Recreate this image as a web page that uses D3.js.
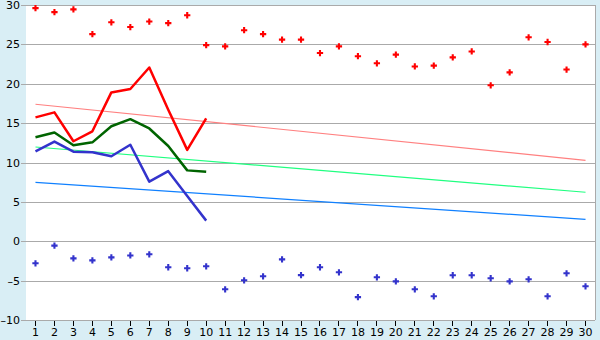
<!DOCTYPE html>
<html>
<head>
<meta charset="utf-8">
<script src="https://cdn.jsdelivr.net/npm/d3@7"></script>
<style>
  body { margin: 0; background: #d9eef5; }
  svg { display: block; }
  .eje text { font-family: "DejaVu Sans", Verdana, sans-serif; font-size: 11px; fill: #000; }
</style>
</head>
<body>
<svg id="chart" width="600" height="340"></svg>
<script>
// ---- datos ----
const dias = d3.range(1, 31);
const yTicks = [-10, -5, 0, 5, 10, 15, 20, 25, 30];

// puntos sueltos (máximas y mínimas)
const maximas = [29.6, 29.1, 29.45, 26.3, 27.8, 27.2, 27.9, 27.7, 28.7, 24.9,
  24.75, 26.8, 26.3, 25.6, 25.6, 23.9, 24.75, 23.5, 22.6, 23.7,
  22.2, 22.3, 23.35, 24.1, 19.8, 21.45, 25.9, 25.3, 21.8, 25.0];
const minimas = [-2.8, -0.56, -2.17, -2.43, -2.05, -1.8, -1.66, -3.3, -3.43, -3.18,
  -6.1, -4.96, -4.45, -2.3, -4.3, -3.3, -3.94, -7.1, -4.58, -5.09,
  -6.1, -6.99, -4.32, -4.32, -4.7, -5.09, -4.83, -6.99, -4.07, -5.72];

// líneas de los primeros 10 días
const lineaRoja = [15.73, 16.37, 12.7, 13.96, 18.9, 19.33, 22.06, 16.7, 11.6, 15.6];
const lineaVerde = [13.2, 13.8, 12.2, 12.56, 14.6, 15.5, 14.32, 12.1, 9.0, 8.83];
const lineaAzul = [11.4, 12.65, 11.37, 11.3, 10.8, 12.26, 7.57, 8.9, 5.75, 2.62];

// tendencias (valor en día 1 y día 30)
const tendRoja = [17.4, 10.28];
const tendVerde = [11.97, 6.22];
const tendAzul = [7.48, 2.78];

// ---- escalas ----
const margen = { left: 26, right: 5, top: 5, bottom: 20 };
const W = 600, H = 340;
const svg = d3.select("#chart");

const x = d3.scaleBand()
  .domain(dias)
  .range([margen.left, W - margen.right]);
const xc = d => x(d) + x.bandwidth() / 2;

const y = d3.scaleLinear()
  .domain([-10, 30])
  .range([H - margen.bottom, margen.top]);

// fondo del área
svg.append("rect")
  .attr("x", margen.left)
  .attr("y", margen.top)
  .attr("width", W - margen.left - margen.right)
  .attr("height", H - margen.top - margen.bottom)
  .attr("fill", "#fff");

// rejilla + eje Y
const ejeY = svg.append("g")
  .attr("class", "eje")
  .attr("transform", `translate(${margen.left},0)`)
  .call(d3.axisLeft(y)
    .tickValues(yTicks)
    .tickSize(5)
    .tickPadding(1)
    .tickFormat(d => d < 0 ? "–" + Math.abs(d) : d))
  .attr("shape-rendering", "crispEdges");
ejeY.select(".domain").remove();
ejeY.selectAll("line").attr("stroke", "#aaa");

svg.append("g")
  .attr("shape-rendering", "crispEdges")
  .selectAll("line")
  .data(yTicks)
  .join("line")
  .attr("x1", margen.left)
  .attr("x2", W - margen.right)
  .attr("y1", d => Math.round(y(d)) + 0.5)
  .attr("y2", d => Math.round(y(d)) + 0.5)
  .attr("stroke", "#aaa");

// borde derecho
svg.append("line")
  .attr("x1", W - margen.right + 0.5)
  .attr("x2", W - margen.right + 0.5)
  .attr("y1", margen.top)
  .attr("y2", H - margen.bottom)
  .attr("stroke", "#aaa");

// eje X
const ejeX = svg.append("g")
  .attr("class", "eje")
  .attr("transform", `translate(0,${H - margen.bottom + 0.5})`)
  .call(d3.axisBottom(x).tickSize(5).tickPadding(3))
  .attr("shape-rendering", "crispEdges");
ejeX.select(".domain").remove();
ejeX.selectAll("line").attr("stroke", "#000");

// tendencias
const tendencias = [
  { v: tendRoja, color: "#ff8080" },
  { v: tendVerde, color: "#20ff80" },
  { v: tendAzul, color: "#1080ff" },
];
svg.append("g")
  .selectAll("line")
  .data(tendencias)
  .join("line")
  .attr("x1", xc(1))
  .attr("x2", xc(30))
  .attr("y1", d => y(d.v[0]))
  .attr("y2", d => y(d.v[1]))
  .attr("stroke", d => d.color)
  .attr("stroke-width", 1.2);

// líneas gruesas
const linea = d3.line()
  .x((d, i) => xc(dias[i]))
  .y(d => y(d));

const series = [
  { v: lineaRoja, color: "#ff0000" },
  { v: lineaVerde, color: "#006400" },
  { v: lineaAzul, color: "#3333cc" },
];
svg.append("g")
  .selectAll("path")
  .data(series)
  .join("path")
  .attr("d", d => linea(d.v))
  .attr("fill", "none")
  .attr("stroke", d => d.color)
  .attr("stroke-width", 2.5)
  .attr("stroke-linejoin", "round");

// marcadores
const cruz = d3.symbol(d3.symbolCross).size(22);
function pintarPuntos(valores, color) {
  svg.append("g")
    .selectAll("path")
    .data(valores)
    .join("path")
    .attr("transform", (d, i) => `translate(${xc(dias[i])},${y(d)})`)
    .attr("d", cruz)
    .attr("fill", color);
}
pintarPuntos(maximas, "#ff0000");
pintarPuntos(minimas, "#3333cc");
</script>
</body>
</html>
